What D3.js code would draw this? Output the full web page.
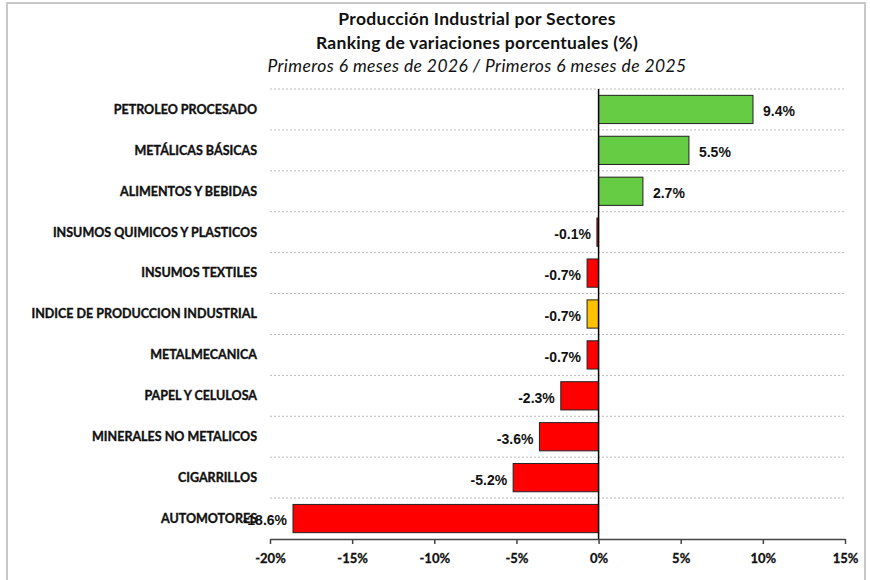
<!DOCTYPE html>
<html>
<head>
<meta charset="utf-8">
<script src="https://cdn.jsdelivr.net/npm/d3@7"></script>
<style>
  body { margin: 0; background: #fff; }
  .cat { font-family: Lato, "Open Sans", sans-serif; font-weight: 700; font-size: 12.5px; fill: #111; stroke: #111; stroke-width: 0.35px; }
  .val { font-family: "Liberation Sans", Arial, sans-serif; font-weight: 700; font-size: 14px; fill: #111; }
  .title { font-family: Lato, sans-serif; font-size: 17.5px; fill: #111; }
  .tick text { font-family: Lato, sans-serif; font-weight: 700; font-size: 13px; fill: #111; stroke: #111; stroke-width: 0.3px; }
</style>
</head>
<body>
<div id="chart"></div>
<script>
var categories = [
    "PETROLEO PROCESADO",
    "METÁLICAS BÁSICAS",
    "ALIMENTOS Y BEBIDAS",
    "INSUMOS QUIMICOS Y PLASTICOS",
    "INSUMOS TEXTILES",
    "INDICE DE PRODUCCION INDUSTRIAL",
    "METALMECANICA",
    "PAPEL Y CELULOSA",
    "MINERALES NO METALICOS",
    "CIGARRILLOS",
    "AUTOMOTORES"
];
var values = [9.4, 5.5, 2.7, -0.1, -0.7, -0.7, -0.7, -2.3, -3.6, -5.2, -18.6];
var totalCategory = "INDICE DE PRODUCCION INDUSTRIAL";
var xTicks = [-20, -15, -10, -5, 0, 5, 10, 15];
var titleLines = [
    "Producción Industrial por Sectores",
    "Ranking de variaciones porcentuales (%)",
    "Primeros 6 meses de 2026 / Primeros 6 meses de 2025"
];

function init() {
    var w = 870;
    var h = 580;
    var left = 270, right = 845, top = 89, bottom = 539;

    var svg = d3.select("#chart")
        .append("svg")
        .attr("width", w)
        .attr("height", h);

    // frame
    svg.append("rect")
        .attr("x", 7).attr("y", 3)
        .attr("width", 858).attr("height", 600)
        .attr("fill", "none")
        .attr("stroke", "#c8c8c8")
        .attr("stroke-width", 2);

    // title
    svg.selectAll("text.title")
        .data(titleLines)
        .enter().append("text")
        .attr("class", "title")
        .attr("x", 477)
        .attr("y", function(d, i) { return [25, 49, 72][i]; })
        .attr("text-anchor", "middle")
        .attr("font-weight", function(d, i) { return i < 2 ? 700 : 400; })
        .attr("font-style", function(d, i) { return i == 2 ? "italic" : "normal"; })
        .attr("letter-spacing", function(d, i) { return i == 2 ? "0.4px" : "0.3px"; })
        .text(function(d) { return d; });

    var xScale = d3.scaleLinear().domain([-20, 15]).range([left, right]);
    var yScale = d3.scaleBand().domain(categories).range([top, bottom]).paddingInner(0.31).paddingOuter(0.155);

    // dashed gridlines at band boundaries
    var step = yScale.step();
    svg.selectAll("line.grid")
        .data(categories)
        .enter().append("line")
        .attr("class", "grid")
        .attr("x1", left).attr("x2", right)
        .attr("y1", function(d) { return yScale(d) - yScale.paddingOuter() * step; })
        .attr("y2", function(d) { return yScale(d) - yScale.paddingOuter() * step; })
        .attr("stroke", "#bbbbbb")
        .attr("stroke-width", 1)
        .attr("stroke-dasharray", "2,2");

    // bars
    svg.selectAll("rect.bar")
        .data(categories)
        .enter().append("rect")
        .attr("class", "bar")
        .attr("x", function(d, i) { return xScale(Math.min(0, values[i])); })
        .attr("y", function(d) { return yScale(d); })
        .attr("width", function(d, i) { return Math.abs(xScale(values[i]) - xScale(0)); })
        .attr("height", yScale.bandwidth())
        .attr("fill", function(d, i) {
            if (d == totalCategory) return "#ffc000";
            return values[i] >= 0 ? "#66cc44" : "#ff0000";
        })
        .attr("stroke", "#222")
        .attr("stroke-width", 1);

    // zero line
    svg.append("line")
        .attr("x1", xScale(0)).attr("x2", xScale(0))
        .attr("y1", top).attr("y2", bottom)
        .attr("stroke", "#000")
        .attr("stroke-width", 1.5);

    // category labels
    svg.selectAll("text.cat")
        .data(categories)
        .enter().append("text")
        .attr("class", "cat")
        .attr("x", 257)
        .attr("y", function(d) { return yScale(d) + yScale.bandwidth() / 2; })
        .attr("dy", "0.35em")
        .attr("text-anchor", "end")
        .text(function(d) { return d; });

    // value labels
    svg.selectAll("text.val")
        .data(categories)
        .enter().append("text")
        .attr("class", "val")
        .attr("x", function(d, i) {
            return values[i] >= 0 ? xScale(values[i]) + 10 : xScale(values[i]) - 6;
        })
        .attr("y", function(d) { return yScale(d) + yScale.bandwidth() / 2 + 2; })
        .attr("dy", "0.35em")
        .attr("text-anchor", function(d, i) { return values[i] >= 0 ? "start" : "end"; })
        .text(function(d, i) { return values[i].toFixed(1) + "%"; });

    // x axis
    var xAxis = d3.axisBottom(xScale)
        .tickValues(xTicks)
        .tickSize(5)
        .tickSizeOuter(0)
        .tickFormat(function(d) { return d + "%"; });

    var ax = svg.append("g")
        .attr("transform", "translate(0," + bottom + ")")
        .call(xAxis);
    ax.select(".domain").attr("stroke", "#444").attr("stroke-width", 1.5);
    ax.selectAll(".tick line").attr("stroke", "#444").attr("stroke-width", 1.5);
    ax.selectAll(".tick text").attr("dy", "1.2em");
}

window.onload = init;
</script>
</body>
</html>
